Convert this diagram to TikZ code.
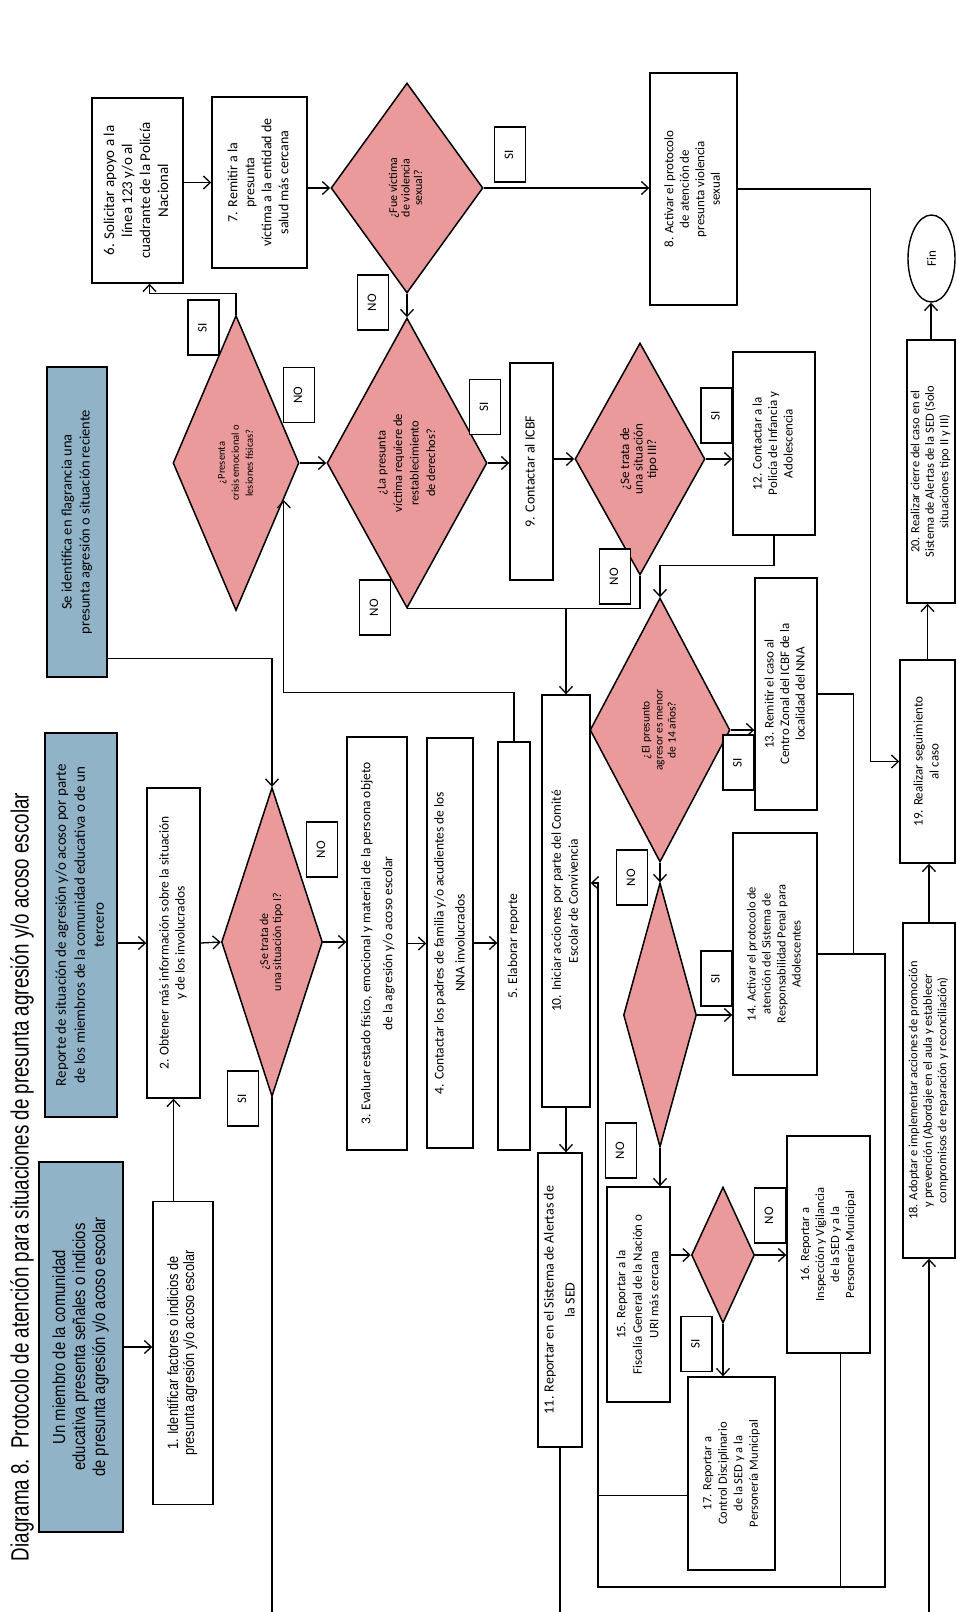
\documentclass[tikz,border=0pt]{standalone}
\usepackage{fontspec}
\usepackage{graphicx}
\usepackage{tikz}
\usetikzlibrary{calc}
\usetikzlibrary{arrows.meta}
\usetikzlibrary{shapes.geometric}

\newfontfamily\boxfont{Carlito}
\newfontfamily\arialfont{Liberation Sans}[FakeStretch=0.85]
\newfontfamily\titlefont{Liberation Sans}[FakeStretch=0.75]

% text that reads from bottom to top
\newcommand{\vtext}[1]{\rotatebox{90}{\begin{tabular}{@{}c@{}}#1\end{tabular}}}
\newcommand{\setfs}[2]{\fontsize{#1}{#2}\selectfont}

\definecolor{qpink}{RGB}{234,154,154}
\definecolor{sblue}{RGB}{144,179,200}

\begin{document}
\begin{tikzpicture}[
                x = 1pt, y = -1pt,
                box/.style 2 args = {
                    draw,
                    fill = white,
                    line width = 1.4pt,
                    minimum width = #1,
                    minimum height = #2,
                    inner sep = 0pt,
                    font = \boxfont\setfs{13.5}{16}
                },
                src/.style 2 args = {
                    box = {#1}{#2},
                    fill = sblue
                },
                ques/.style 2 args = {
                    draw,
                    diamond,
                    fill = qpink,
                    line width = 1.5pt,
                    minimum width = #1,
                    minimum height = #2,
                    inner sep = 0pt
                },
                qtext/.style = {
                    inner sep = 0pt
                },
                ans/.style = {
                    box = {31}{55},
                    font = \boxfont\setfs{13}{15}
                },
                arr/.style = {
                    line width = 1.3pt,
                    -{Straight Barb[length=7pt, width=13pt]}
                },
                wire/.style = {
                    line width = 1.3pt
                }
            ]

            \fill[white] (0,0) rectangle (957,1612);
            \useasboundingbox (0,0) rectangle (957,1612);

            \node[inner sep=0pt, font=\titlefont\setfs{25}{28}] (title) at (22,1177)
                {\rotatebox{90}{Diagrama 8.\ \ Protocolo de atención para situaciones de presunta agresión y/o acoso escolar}};

            % where a case starts
            \node[src={84}{370}, font=\arialfont\setfs{17.5}{20}] (S1) at (81,1347)
                {\vtext{Un miembro de la comunidad\\educativa presenta señales o indicios\\de presunta agresión y/o acoso escolar}};
            \node[src={72}{384}, font=\boxfont\setfs{15}{19}] (S2) at (81,925)
                {\vtext{Reporte de situación de agresión y/o acoso por parte\\de los miembros de la comunidad educativa o de un\\tercero}};
            \node[src={60}{310}, font=\boxfont\setfs{14.5}{18}] (S3) at (77,522)
                {\vtext{Se identifica en flagrancia una\\presunta agresión o situación reciente}};

            % steps
            \node[box={60}{303}, font=\arialfont\setfs{15}{16}] (1) at (183,1353)
                {\vtext{1. Identificar factores o indicios de\\presunta agresión y/o acoso escolar}};
            \node[box={53}{310}] (2) at (173.5,943)
                {\vtext{2. Obtener más información sobre la situación\\y de los involucrados}};
            \node[box={60}{413}, font=\boxfont\setfs{13.5}{22}] (3) at (377,943.5)
                {\vtext{3. Evaluar estado físico, emocional y material de la persona objeto\\de la agresión y/o acoso escolar}};
            \node[box={46}{410}, font=\boxfont\setfs{13.5}{21}] (4) at (450,943)
                {\vtext{4. Contactar los padres de familia y/o acudientes de los\\NNA involucrados}};
            \node[box={32}{408}] (5) at (514,946) {\vtext{5. Elaborar reporte}};
            \node[box={91}{185}, font=\boxfont\setfs{15}{18}] (6) at (137.5,190.5)
                {\vtext{6. Solicitar apoyo a la\\línea 123 y/o al\\cuadrante de la Policía\\Nacional}};
            \node[box={95}{171}, font=\boxfont\setfs{14}{17}] (7) at (259.5,182.5)
                {\vtext{7. Remitir a la\\presunta\\víctima a la entidad de\\salud más cercana}};
            \node[box={87}{232}, font=\boxfont\setfs{13}{15.5}] (8) at (693.5,189)
                {\vtext{8. Activar el protocolo\\de atención de\\presunta violencia\\sexual}};
            \node[box={43}{217}, font=\boxfont\setfs{14}{16}] (9) at (531.5,471.5)
                {\vtext{9. Contactar al ICBF}};
            \node[box={48}{412}, font=\boxfont\setfs{13.5}{17}] (10) at (566,901)
                {\vtext{10. Iniciar acciones por parte del Comité\\Escolar de Convivencia}};
            \node[box={44}{294}, font=\boxfont\setfs{14}{21}] (11) at (560,1300)
                {\vtext{11. Reportar en el Sistema de Alertas de\\la SED}};
            \node[box={82}{183}, font=\boxfont\setfs{13}{15.5}] (12) at (774,443.5)
                {\vtext{12. Contactar a la\\Policía de Infancia y\\Adolescencia}};
            \node[box={62}{232}, font=\boxfont\setfs{13}{15.5}] (13) at (786,694)
                {\vtext{13. Remitir el caso al\\Centro Zonal del ICBF de la\\localidad del NNA}};
            \node[box={84}{242}, font=\boxfont\setfs{12.5}{15}] (14) at (775,954)
                {\vtext{14. Activar el protocolo de\\atención del Sistema de\\Responsabilidad Penal para\\Adolescentes}};
            \node[box={63}{215}, font=\boxfont\setfs{13}{16.5}] (15) at (638.5,1294.5)
                {\vtext{15. Reportar a la\\Fiscalía General de la Nación o\\URI más cercana}};
            \node[box={83}{217}, font=\boxfont\setfs{12.5}{15}] (16) at (828.5,1244.5)
                {\vtext{16. Reportar a\\Inspección y Vigilancia\\de la SED y a la\\Personería Municipal}};
            \node[box={87}{193}, font=\boxfont\setfs{12.5}{15.5}] (17) at (731.5,1473.5)
                {\vtext{17. Reportar a\\Control Disciplinario\\de la SED y a la\\Personería Municipal}};
            \node[box={52}{335}, font=\boxfont\setfs{12.5}{14.5}] (18) at (929,1090.5)
                {\vtext{18. Adoptar e implementar acciones de promoción\\y prevención (Abordaje en el aula y establecer\\compromisos de reparación y reconciliación)}};
            \node[box={55}{203}, font=\boxfont\setfs{13}{16}] (19) at (927.5,761.5)
                {\vtext{19. Realizar seguimiento\\al caso}};
            \node[box={48}{263}, font=\boxfont\setfs{12.5}{14.5}] (20) at (931,471.5)
                {\vtext{20. Realizar cierre del caso en el\\Sistema de Alertas de la SED (Solo\\situaciones tipo II y III)}};
            \node[draw, ellipse, fill=white, line width=1.4pt, minimum width=47, minimum height=87,
                  inner sep=0pt, font=\boxfont\setfs{13}{15}] (fin) at (931.5,258.5) {\rotatebox{90}{Fin}};

            % questions
            \node[ques={101}{309}] (Q1) at (272,942) {};
            \node[ques={126}{295}] (Q2) at (236,463) {};
            \node[ques={160}{290}] (Q3) at (407,463) {};
            \node[ques={152}{210}] (Q4) at (407,188) {};
            \node[ques={130}{232}] (Q5) at (640,459) {};
            \node[ques={140}{264}] (Q6) at (660,730) {};
            \node[ques={73}{264}] (Q7) at (660,1015) {};
            \node[ques={63}{136}] (Q8) at (723,1255) {};

            \node[qtext, font=\boxfont\setfs{12}{13}] (Q1t) at (Q1) {\vtext{¿Se trata de\\una situación tipo I?}};
            \node[qtext, font=\boxfont\setfs{10.5}{14}] (Q2t) at (Q2) {\vtext{¿Presenta\\crisis emocional o\\lesiones físicas?}};
            \node[qtext, font=\boxfont\setfs{12.5}{16.5}] (Q3t) at (Q3) {\vtext{¿La presunta\\víctima requiere de\\restablecimiento\\de derechos?}};
            \node[qtext, font=\boxfont\setfs{12}{12.5}] (Q4t) at (Q4) {\vtext{¿Fue víctima\\de violencia\\sexual?}};
            \node[qtext, font=\boxfont\setfs{13}{13.5}] (Q5t) at (Q5) {\vtext{¿Se trata de\\una situación\\tipo III?}};
            \node[qtext, font=\boxfont\setfs{11.5}{13}] (Q6t) at (Q6) {\vtext{¿El presunto\\agresor es menor\\de 14 años?}};

            % connectors
            \draw[arr] (S1.east) -- (S1.east -| 1.west);
            \draw[arr] (2.south |- 1.north) -- (2.south);
            \draw[arr] (S2.east |- 2.west) -- (2.west);
            \draw[arr] (2.east) -- (Q1.west);
            \draw[arr] ($(S3.south east)+(0,-19)$) -| (Q1.north);
            \draw[arr] (Q1.east) -- (Q1.east -| 3.west);
            \draw[arr] (3.east) -- (3.east -| 4.west);
            \draw[arr] (4.east) -- (4.east -| 5.west);
            \coordinate (Q2in) at ($(Q2.east)!0.25!(Q2.south)$);
            \draw[arr] (5.north) -- ++(0,-49) -| (Q2in);
            \draw[arr] (Q2.north) -- ++(0,-21) -| ($(6.south)+(12,0)$);
            \draw[arr] (Q2.east) -- (Q3.west);
            \draw[arr] (6.east |- 7.west) -- (7.west);
            \draw[arr] (7.east |- Q4.west) -- (Q4.west);
            \draw[arr] (Q4.south) -- (Q3.north);
            \draw[arr] (Q4.east) -- (Q4.east -| 8.west);
            \draw[arr] (8.east) -- ++(133,0) |- (19.west);
            \draw[arr] (Q3.east) -- (Q3.east -| 9.west);
            \draw[wire] (Q3.south) -- (Q3.south -| Q5.south) -- (Q5.south);
            \coordinate (J) at (10.north |- Q3.south);
            \draw[arr] (J) -- (10.north);
            \draw[arr] (9.east |- Q5.west) -- (Q5.west);
            \draw[arr] (Q5.east) -- (Q5.east -| 12.west);
            \draw[arr] (12.south) -- ++(0,30) -| (Q6.north);
            \draw[arr] (Q6.east) -- (Q6.east -| 13.west);
            \draw[arr] (Q6.south) -- (Q7.north);
            \draw[arr] (Q7.east) -- (Q7.east -| 14.west);
            \draw[arr] (Q7.south) -- (Q7.south |- 15.north);
            \draw[arr] (15.east |- Q8.west) -- (Q8.west);
            \draw[arr] (Q8.east) -- (Q8.east -| 16.west);
            \draw[arr] (Q8.south) -- (Q8.south |- 17.north);

            % back to the Comite
            \coordinate (R1) at (885,1587);
            \coordinate (R2) at (598,1587);
            \coordinate (R3) at (598,883);
            \draw[wire] (13.east) -| ($(14.east)+(36,0)$);
            \draw[arr] (14.east) -| (R1) -- (R2) -- (R3) -- (R3 -| 10.east);
            \coordinate (16b) at ($(16.south)+(12,0)$);
            \draw[wire] (16b) -- (16b |- R1);
            \coordinate (17b) at ($(17.west)+(0,22)$);
            \draw[wire] (17b) -- (17b -| R2);

            \draw[arr] (10.south) -- (10.south |- 11.north);
            \coordinate (bot) at (0,1612);
            \draw[wire] (11.south) -- (11.south |- bot);
            \draw[wire] (Q1.south) -- (Q1.south |- bot);
            \draw[arr] (18.south |- bot) -- (18.south);
            \draw[arr] (18.north) -- (18.north |- 19.south);
            \draw[arr] (19.north) -- (19.north |- 20.south);
            \draw[arr] (20.north) -- (20.north |- fin.south);

            % answers
            \node[ans] (Q1no) at (322,849.5) {\vtext{NO}};
            \node[ans] (Q1si) at (243,1098.5) {\vtext{SI}};
            \node[ans] (Q2si) at (203.5,327.5) {\vtext{SI}};
            \node[ans] (Q2no) at (299,395) {\vtext{NO}};
            \node[ans] (Q3si) at (485,407) {\vtext{SI}};
            \node[ans] (Q3no) at (375,607.5) {\vtext{NO}};
            \node[ans] (Q4no) at (373,302.5) {\vtext{NO}};
            \node[ans] (Q4si) at (510,154.5) {\vtext{SI}};
            \node[ans] (Q5si) at (716.5,415.5) {\vtext{SI}};
            \node[ans] (Q5no) at (615,576.5) {\vtext{NO}};
            \node[ans] (Q6si) at (738.5,762.5) {\vtext{SI}};
            \node[ans] (Q6no) at (632,877.5) {\vtext{NO}};
            \node[ans] (Q7si) at (716.5,978.5) {\vtext{SI}};
            \node[ans] (Q7no) at (621,1150.5) {\vtext{NO}};
            \node[ans] (Q8no) at (770,1215.5) {\vtext{NO}};
            \node[ans] (Q8si) at (696.5,1344) {\vtext{SI}};

         \end{tikzpicture}
\end{document}
